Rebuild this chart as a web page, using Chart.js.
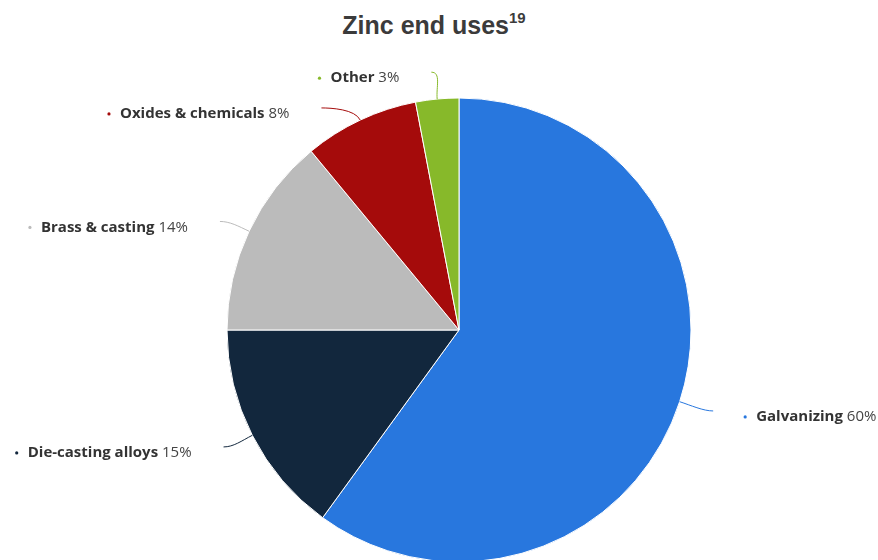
<!DOCTYPE html>
<html>
<head>
<meta charset="utf-8">
<script src="https://cdn.jsdelivr.net/npm/chart.js@4.4.1/dist/chart.umd.min.js"></script>
<style>
  html, body { margin: 0; padding: 0; background: #fff; overflow: hidden; }
  #wrap { position: relative; width: 878px; height: 560px; }
  #title {
    position: absolute; top: 11px; left: 0; width: 868px; text-align: center;
    font-family: "Liberation Sans", Arial, sans-serif; font-weight: bold;
    font-size: 25px; color: #3b3b3b;
  }
  #title sup { font-size: 15px; position: relative; top: -2px; }
  canvas { position: absolute; top: 0; left: 0; }
</style>
</head>
<body>
<div id="wrap">
  <div id="title">Zinc end uses<sup>19</sup></div>
  <canvas id="pie" width="878" height="562"></canvas>
</div>
<script>
// zinc end uses, share in percent
const uses = ['Galvanizing', 'Die-casting alloys', 'Brass & casting', 'Oxides & chemicals', 'Other'];
const shares = [60, 15, 14, 8, 3];
const sliceColors = ['#2877de', '#12273d', '#bbbbbb', '#a50b0b', '#87b92a'];

const labelFont = '15px "Open Sans"';
const labelFontBold = 'bold 15px "Open Sans"';

// leader lines + labels outside the slices
const outsideLabels = {
  id: 'outsideLabels',
  afterDatasetsDraw(chart, args, opts) {
    const ctx = chart.ctx;
    const arcs = chart.getDatasetMeta(0).data;
    ctx.save();
    arcs.forEach((arc, i) => {
      const p = arc.getProps(['x', 'y', 'startAngle', 'endAngle', 'outerRadius'], true);
      const mid = (p.startAngle + p.endAngle) / 2;
      const c = Math.cos(mid), s = Math.sin(mid);
      const side = c >= 0 ? 1 : -1;
      const x0 = p.x + p.outerRadius * c, y0 = p.y + p.outerRadius * s;
      const nudge = opts.nudge[i] || [0, 0];
      const ex = x0 + 30 * c + nudge[0], ey = y0 + 30 * s + nudge[1];

      ctx.strokeStyle = sliceColors[i];
      ctx.lineWidth = 1;
      ctx.beginPath();
      ctx.moveTo(x0, y0);
      ctx.bezierCurveTo(x0 + 12 * c, y0 + 12 * s, ex - side * 10, ey, ex, ey);
      ctx.stroke();

      const name = uses[i] + ' ';
      const val = shares[i] + '%';
      const ty = ey + 6;
      ctx.textBaseline = 'middle';
      ctx.font = labelFontBold;
      const wName = ctx.measureText(name).width;
      ctx.font = labelFont;
      const wVal = ctx.measureText(val).width;
      const tx = side > 0 ? ex + 43 : ex - 32 - wName - wVal;

      ctx.fillStyle = sliceColors[i];
      ctx.beginPath();
      ctx.arc(tx - 11, ty, 1.6, 0, Math.PI * 2);
      ctx.fill();

      ctx.textAlign = 'left';
      ctx.fillStyle = '#333333';
      ctx.font = labelFontBold;
      ctx.fillText(name, tx, ty);
      ctx.fillStyle = '#444444';
      ctx.font = labelFont;
      ctx.fillText(val, tx + wName, ty);
    });
    ctx.restore();
  }
};

new Chart(document.getElementById('pie'), {
  type: 'pie',
  data: {
    labels: uses,
    datasets: [{
      data: shares,
      backgroundColor: sliceColors,
      borderColor: '#ffffff',
      borderWidth: 1
    }]
  },
  options: {
    responsive: false,
    animation: false,
    radius: 232,
    layout: { padding: { top: 98, left: 40, right: 0, bottom: 0 } },
    plugins: {
      legend: { display: false },
      tooltip: { enabled: false },
      title: { display: false },
      outsideLabels: { nudge: [[5, 0], [-2, -2], [-2, 3], [-26, 15], [-3, 3]] }
    }
  },
  plugins: [outsideLabels]
});
</script>
</body>
</html>
